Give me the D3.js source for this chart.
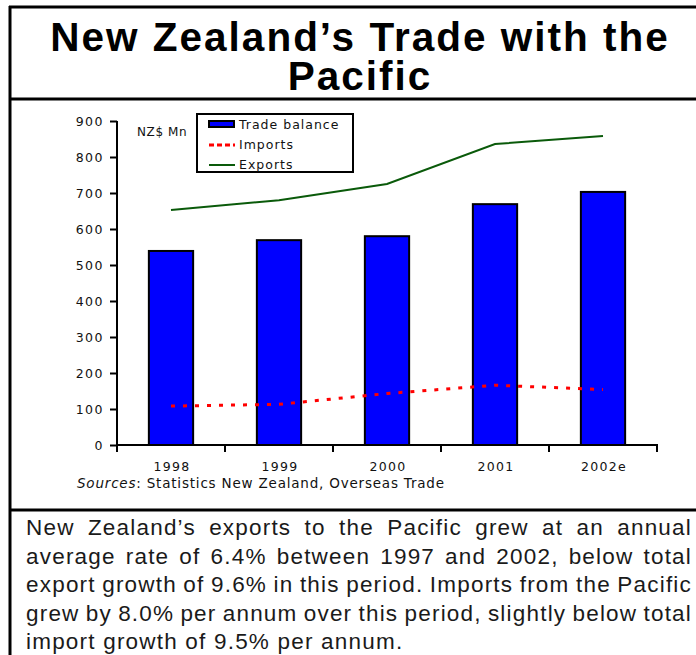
<!DOCTYPE html>
<html>
<head>
<meta charset="utf-8">
<script src="https://cdn.jsdelivr.net/npm/d3@7"></script>
<style>
  html, body { margin: 0; padding: 0; background: #fff; }
  svg { display: block; }
</style>
</head>
<body>
<svg id="chart" width="696" height="655"></svg>
<script>
// Years shown on the category axis
const years = ["1998", "1999", "2000", "2001", "2002e"];
// NZ$ million
const tradeBalance = [539, 569, 580, 669, 703];
const imports = [108, 113, 143, 166, 154];
const exportsNZ = [653, 680, 725, 836, 858];
const yTicks = [0, 100, 200, 300, 400, 500, 600, 700, 800, 900];

const titleLines = ["New Zealand\u2019s Trade with the", "Pacific"];
const sourceLabel = "Sources";
const sourceText = ": Statistics New Zealand, Overseas Trade";
const bodyLines = [
  "New Zealand\u2019s exports to the Pacific grew at an annual",
  "average rate of 6.4% between 1997 and 2002, below total",
  "export growth of 9.6% in this period. Imports from the Pacific",
  "grew by 8.0% per annum over this period, slightly below total",
  "import growth of 9.5% per annum."
];

const svg = d3.select("#chart");
const chartFont = "'DejaVu Sans', Verdana, sans-serif";

// Frame: left rule, top rule, and the two horizontal dividers
const frame = svg.append("g").attr("stroke", "#000").attr("stroke-width", 3);
frame.append("line").attr("x1", 10).attr("x2", 10).attr("y1", 6).attr("y2", 655);
frame.append("line").attr("x1", 9).attr("x2", 696).attr("y1", 7).attr("y2", 7);
frame.append("line").attr("x1", 9).attr("x2", 696).attr("y1", 99).attr("y2", 99);
frame.append("line").attr("x1", 9).attr("x2", 696).attr("y1", 510).attr("y2", 510);

// Title
svg.append("g").selectAll("text").data(titleLines).join("text")
  .attr("x", 360).attr("y", (d, i) => 51 + i * 39)
  .attr("text-anchor", "middle")
  .attr("font-family", "'Liberation Sans', Arial, sans-serif")
  .attr("font-weight", "bold").attr("font-size", 40.5)
  .attr("letter-spacing", 2)
  .text(d => d);

// Scales
const x = d3.scaleBand().domain(years).range([117, 657])
  .paddingInner(0.59).paddingOuter(0.295);
const y = d3.scaleLinear().domain([0, 900]).range([445, 121]);
const xc = d => x(d) + x.bandwidth() / 2;

// Bars
svg.append("g").selectAll("rect").data(years).join("rect")
  .attr("x", d => x(d))
  .attr("y", (d, i) => y(tradeBalance[i]))
  .attr("width", x.bandwidth())
  .attr("height", (d, i) => y(0) - y(tradeBalance[i]))
  .attr("fill", "#0000ff").attr("stroke", "#000").attr("stroke-width", 2);

// Exports line
svg.append("path")
  .datum(exportsNZ)
  .attr("fill", "none").attr("stroke", "#0a5a0a").attr("stroke-width", 2)
  .attr("d", d3.line().x((d, i) => xc(years[i])).y(d => y(d)));

// Imports line
svg.append("path")
  .datum(imports)
  .attr("fill", "none").attr("stroke", "#ff0000").attr("stroke-width", 3)
  .attr("stroke-dasharray", "4,8")
  .attr("d", d3.line().x((d, i) => xc(years[i])).y(d => y(d)));

// Y axis
const yAxis = svg.append("g").attr("transform", "translate(117,0)")
  .call(d3.axisLeft(y).tickValues(yTicks).tickSize(7).tickPadding(6).tickFormat(d3.format("d")));
yAxis.select(".domain").attr("stroke-width", 2).attr("d", "M0,121V446");
yAxis.selectAll(".tick line").attr("stroke-width", 2);
yAxis.selectAll(".tick text")
  .attr("font-family", chartFont).attr("font-size", 12.5)
  .attr("letter-spacing", 1.5).attr("fill", "#111");

// X axis: ticks at the band boundaries, labels at band centres
const xg = svg.append("g");
xg.append("line").attr("x1", 116).attr("x2", 658).attr("y1", 445).attr("y2", 445)
  .attr("stroke", "#000").attr("stroke-width", 2);
const boundaries = d3.range(years.length + 1).map(i => x.range()[0] + i * x.step());
xg.selectAll("line.tk").data(boundaries).join("line").attr("class", "tk")
  .attr("x1", d => d).attr("x2", d => d).attr("y1", 445).attr("y2", 452)
  .attr("stroke", "#000").attr("stroke-width", 2);
xg.selectAll("text").data(years).join("text")
  .attr("x", d => xc(d) + 1).attr("y", 471)
  .attr("text-anchor", "middle")
  .attr("font-family", chartFont).attr("font-size", 12.5)
  .attr("letter-spacing", 1.3).attr("fill", "#111")
  .text(d => d);

// Unit label
svg.append("text").attr("x", 137).attr("y", 136)
  .attr("font-family", chartFont).attr("font-size", 12)
  .attr("letter-spacing", 0.6).attr("fill", "#111")
  .text("NZ$ Mn");

// Legend
const lg = svg.append("g");
lg.append("rect").attr("x", 197).attr("y", 114).attr("width", 156).attr("height", 58)
  .attr("fill", "#fff").attr("stroke", "#000").attr("stroke-width", 2);
lg.append("rect").attr("x", 209).attr("y", 121).attr("width", 25).attr("height", 6)
  .attr("fill", "#0000ff").attr("stroke", "#000").attr("stroke-width", 2);
lg.append("line").attr("x1", 209).attr("x2", 235).attr("y1", 145).attr("y2", 145)
  .attr("stroke", "#ff0000").attr("stroke-width", 3).attr("stroke-dasharray", "5,3");
lg.append("line").attr("x1", 209).attr("x2", 235).attr("y1", 165).attr("y2", 165)
  .attr("stroke", "#0a5a0a").attr("stroke-width", 2);
lg.selectAll("text").data(["Trade balance", "Imports", "Exports"]).join("text")
  .attr("x", 239).attr("y", (d, i) => 129 + i * 20)
  .attr("font-family", chartFont).attr("font-size", 12.5)
  .attr("letter-spacing", 1).attr("fill", "#111")
  .text(d => d);

// Source note
const src = svg.append("text").attr("x", 77).attr("y", 488)
  .attr("font-family", chartFont).attr("font-size", 13.5)
  .attr("letter-spacing", 0.8).attr("fill", "#111");
src.append("tspan").attr("font-style", "italic").text(sourceLabel);
src.append("tspan").text(sourceText);

// Commentary paragraph, justified between the margins (last line left-aligned)
const bodyLeft = 26, bodyRight = 692, bodyTop = 535, lineGap = 28.5, bodySize = 22.5, bodyLs = 1.2;
const bodyFont = "'Liberation Sans', Arial, sans-serif";
const measure = svg.append("text").attr("font-family", bodyFont).attr("font-size", bodySize)
  .attr("letter-spacing", bodyLs).attr("visibility", "hidden");
const widthCache = new Map();
const wordWidth = w => {
  if (!widthCache.has(w)) { measure.text(w); widthCache.set(w, measure.node().getComputedTextLength()); }
  return widthCache.get(w);
};
const spaceW = wordWidth("a a") - wordWidth("aa");
const lineWords = bodyLines.map(l => l.split(" "));
lineWords.forEach(ws => ws.forEach(wordWidth));
measure.remove();

const body = svg.append("g").attr("font-family", bodyFont).attr("font-size", bodySize)
  .attr("letter-spacing", bodyLs).attr("fill", "#1a1a1a");
lineWords.forEach((ln, li) => {
  const yPos = bodyTop + li * lineGap;
  const widths = ln.map(wordWidth);
  const last = li === lineWords.length - 1;
  const total = d3.sum(widths);
  const gap = last || ln.length < 2 ? spaceW : (bodyRight - bodyLeft - total) / (ln.length - 1);
  let xPos = bodyLeft;
  ln.forEach((w, wi) => {
    body.append("text").attr("x", xPos).attr("y", yPos).text(w);
    xPos += widths[wi] + gap;
  });
});
</script>
</body>
</html>
